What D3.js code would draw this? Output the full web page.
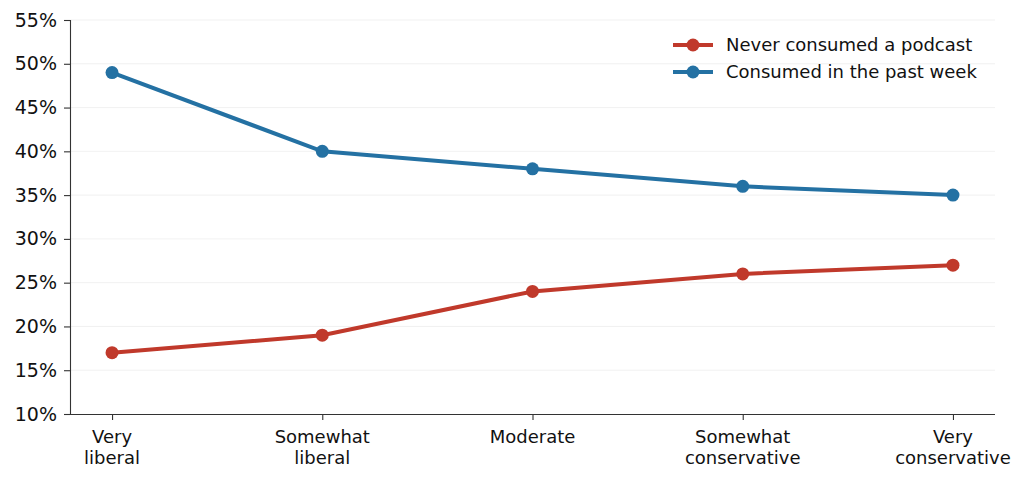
<!DOCTYPE html>
<html>
<head>
<meta charset="utf-8">
<script src="https://cdn.jsdelivr.net/npm/d3@7"></script>
<style>
  body { margin: 0; background: #fff; }
  svg { font-family: "DejaVu Sans", sans-serif; }
</style>
</head>
<body>
<div id="chart"></div>
<script>
var categories = [["Very", "liberal"], ["Somewhat", "liberal"], ["Moderate"], ["Somewhat", "conservative"], ["Very", "conservative"]];
var neverValues = [17, 19, 24, 26, 27];
var weekValues = [49, 40, 38, 36, 35];
var seriesNames = ["Never consumed a podcast", "Consumed in the past week"];
var seriesColors = ["#c0392b", "#2471a3"];
var yTicks = [10, 15, 20, 25, 30, 35, 40, 45, 50, 55];

var width = 1024, height = 480;
var mLeft = 70, mRight = 995, mTop = 20, mBottom = 414;

var svg = d3.select("#chart").append("svg")
  .attr("width", width).attr("height", height);

var x = d3.scalePoint()
  .domain(d3.range(categories.length))
  .range([mLeft, mRight])
  .padding(0.2);
var y = d3.scaleLinear().domain([10, 55]).range([mBottom, mTop]);

// grid
svg.append("g").selectAll("line")
  .data(yTicks.slice(1))
  .enter().append("line")
  .attr("x1", mLeft).attr("x2", mRight)
  .attr("y1", function(d) { return y(d); })
  .attr("y2", function(d) { return y(d); })
  .attr("stroke", "#ededed").attr("stroke-width", 0.8);

// y axis
var yAxis = svg.append("g")
  .attr("transform", "translate(" + mLeft + ",0)")
  .call(d3.axisLeft(y).tickValues(yTicks).tickSize(6).tickPadding(7)
    .tickFormat(function(d) { return d + "%"; }));
yAxis.select(".domain").attr("stroke", "#333").attr("stroke-width", 1.1);
yAxis.selectAll(".tick line").attr("stroke", "#333").attr("stroke-width", 1.1);
yAxis.selectAll("text").attr("font-size", 19).attr("fill", "#111")
  .attr("font-family", "DejaVu Sans");

// x axis
var xAxis = svg.append("g")
  .attr("transform", "translate(0," + mBottom + ")")
  .call(d3.axisBottom(x).tickSize(6).tickFormat(""));
xAxis.select(".domain").attr("d", "M" + mLeft + ",0.5H" + mRight).attr("stroke", "#333").attr("stroke-width", 1.1);
xAxis.selectAll(".tick line").attr("stroke", "#333").attr("stroke-width", 1.1);

svg.append("g").selectAll("text")
  .data(categories)
  .enter().append("text")
  .attr("x", function(d, i) { return x(i); })
  .attr("y", mBottom + 29)
  .attr("text-anchor", "middle")
  .attr("font-size", 18)
  .attr("fill", "#111")
  .each(function(d) {
    var t = d3.select(this);
    d.forEach(function(s, j) {
      t.append("tspan").attr("x", t.attr("x")).attr("dy", j === 0 ? 0 : 21).text(s);
    });
  });

// series
var series = [neverValues, weekValues];
var line = d3.line()
  .x(function(d, i) { return x(i); })
  .y(function(d) { return y(d); });

series.forEach(function(vals, k) {
  var g = svg.append("g");
  g.append("path")
    .datum(vals)
    .attr("d", line)
    .attr("fill", "none")
    .attr("stroke", seriesColors[k])
    .attr("stroke-width", 4);
  g.selectAll("circle")
    .data(vals)
    .enter().append("circle")
    .attr("cx", function(d, i) { return x(i); })
    .attr("cy", function(d) { return y(d); })
    .attr("r", 6.5)
    .attr("fill", seriesColors[k]);
});

// legend
var legend = svg.append("g").attr("transform", "translate(673,45)");
seriesNames.forEach(function(name, k) {
  var row = legend.append("g").attr("transform", "translate(0," + (k * 27) + ")");
  row.append("line").attr("x1", 0).attr("x2", 40).attr("y1", 0).attr("y2", 0)
    .attr("stroke", seriesColors[k]).attr("stroke-width", 4);
  row.append("circle").attr("cx", 20).attr("cy", 0).attr("r", 6.5).attr("fill", seriesColors[k]);
  row.append("text").attr("x", 53).attr("y", 0).attr("dy", "0.35em")
    .attr("font-size", 18).attr("fill", "#111").text(name);
});
</script>
</body>
</html>
